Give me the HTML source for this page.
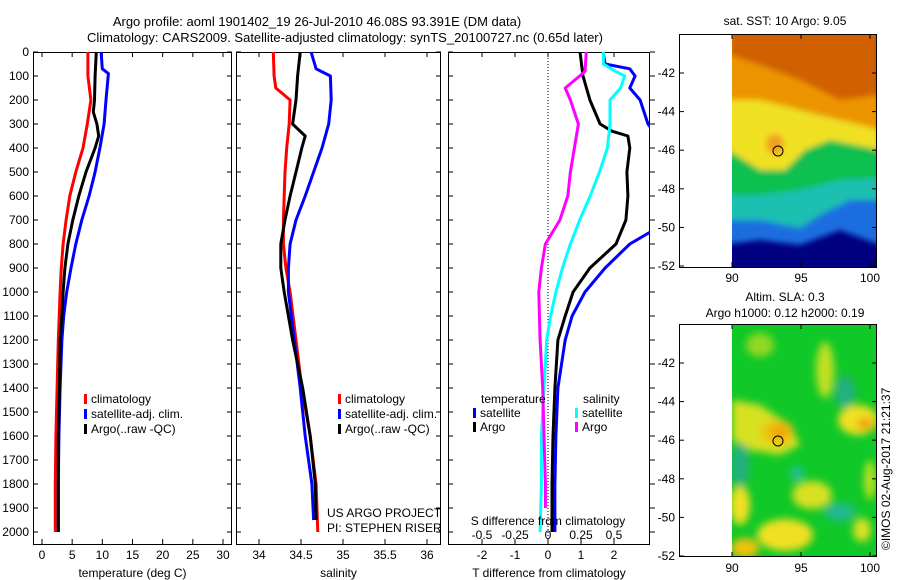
<!DOCTYPE html>
<html><head><meta charset="utf-8"><style>
body{margin:0;background:#fff;}
svg{display:block;font-family:"Liberation Sans",sans-serif;font-size:12px;}
</style></head><body>
<svg id="c" width="900" height="580" xmlns="http://www.w3.org/2000/svg">
<defs>
<filter id="bl" x="-20%" y="-20%" width="140%" height="140%"><feGaussianBlur stdDeviation="4"/></filter>
<filter id="bl2" x="-20%" y="-20%" width="140%" height="140%"><feGaussianBlur stdDeviation="3"/></filter>
<clipPath id="cp3"><rect x="448" y="52" width="202" height="492"/></clipPath>
<clipPath id="cm1"><rect x="732" y="34" width="145" height="233"/></clipPath>
<clipPath id="cm2"><rect x="732" y="324" width="145" height="233"/></clipPath>
</defs>
<text x="317" y="26" text-anchor="middle" font-size="13">Argo profile: aoml 1901402_19 26-Jul-2010 46.08S 93.391E (DM data)</text>
<text x="345" y="42" text-anchor="middle" font-size="13">Climatology: CARS2009. Satellite-adjusted climatology: synTS_20100727.nc (0.65d later)</text>

<g>
<text x="785" y="25" text-anchor="middle">sat. SST: 10 Argo: 9.05</text>
<g clip-path="url(#cm1)">
<rect x="732" y="34" width="145" height="233" fill="#000080"/>
<g filter="url(#bl2)">
<path d="M720,210 L760,215 L800,225 L830,210 L850,195 L880,190 L880,245 L840,230 L800,245 L760,240 L720,245Z" fill="#1a6ee0"/>
<path d="M720,185 L760,190 L800,185 L840,175 L880,170 L880,200 L850,200 L820,215 L800,228 L760,220 L720,220Z" fill="#1fbfb0"/>
<path d="M720,140 L760,165 L780,165 L800,150 L820,135 L880,145 L880,178 L840,180 L800,190 L760,195 L720,195Z" fill="#10c050"/>
<path d="M720,90 L760,95 L800,110 L840,120 L880,125 L880,150 L830,140 L805,150 L785,170 L760,170 L720,145Z" fill="#f0e020"/>
<path d="M720,25 L880,25 L880,130 L840,120 L800,110 L760,100 L720,100Z" fill="#ec9400"/>
<path d="M730,25 L880,25 L880,95 L840,100 L800,80 L760,65 L730,55Z" fill="#d06000"/>
<ellipse cx="775" cy="144" rx="9" ry="10" fill="#f0a020"/>
</g>
</g>
<rect x="679.5" y="34.5" width="197" height="233" fill="none" stroke="#000"/>
<circle cx="778" cy="151" r="5" fill="none" stroke="#000"/>
</g>

<g>
<text x="785" y="301" text-anchor="middle">Altim. SLA: 0.3</text>
<text x="785" y="317" text-anchor="middle">Argo h1000: 0.12 h2000: 0.19</text>
<g clip-path="url(#cm2)">
<rect x="732" y="324" width="145" height="233" fill="#10c828"/>
<g filter="url(#bl)">
<path d="M732,400 L760,405 L790,425 L800,445 L780,455 L750,450 L732,440Z" fill="#d8e020"/>
<ellipse cx="778" cy="432" rx="16" ry="12" fill="#f0c010"/>
<ellipse cx="780" cy="432" rx="8" ry="6" fill="#f0a010"/>
<ellipse cx="858" cy="420" rx="20" ry="15" fill="#f0e020"/>
<ellipse cx="865" cy="424" rx="8" ry="6" fill="#f0a010"/>
<ellipse cx="825" cy="370" rx="9" ry="28" fill="#c0e020"/>
<ellipse cx="760" cy="345" rx="14" ry="12" fill="#90d820"/>
<ellipse cx="740" cy="505" rx="10" ry="20" fill="#f0e020"/>
<ellipse cx="812" cy="495" rx="20" ry="14" fill="#d8e020"/>
<ellipse cx="785" cy="535" rx="28" ry="16" fill="#f0e020"/>
<ellipse cx="745" cy="548" rx="14" ry="10" fill="#f0c010"/>
<ellipse cx="840" cy="512" rx="16" ry="9" fill="#20b890"/>
<ellipse cx="797" cy="474" rx="6" ry="8" fill="#20c0a0"/>
<ellipse cx="845" cy="392" rx="10" ry="16" fill="#20b080"/>
<ellipse cx="740" cy="465" rx="9" ry="22" fill="#20b080"/>
<ellipse cx="862" cy="530" rx="9" ry="12" fill="#d8e020"/>
<ellipse cx="870" cy="480" rx="6" ry="20" fill="#b8e020"/>
</g>
</g>
<rect x="679.5" y="324.5" width="197" height="232" fill="none" stroke="#000"/>
<circle cx="778" cy="441" r="5" fill="none" stroke="#000"/>
</g>
<text transform="translate(890,550) rotate(-90)" font-size="12">©IMOS 02-Aug-2017 21:21:37</text>
<g id="dyn"></g>
</svg>
<script>
// ---- data ----
const tempClimDepth = [0,100,200,300,400,500,600,700,800,900,1000,1200,1400,1600,1800,2000];
const tempClim = [7.6,7.6,8.1,7.5,6.8,5.6,4.6,4.0,3.5,3.2,3.0,2.7,2.5,2.3,2.2,2.2];
const tempArgoDepth = [0,100,200,250,300,350,400,500,600,700,800,900,1000,1100,1200,1400,1600,1800,2000];
const tempArgo = [9.0,8.8,8.7,8.5,9.1,9.4,8.8,7.3,6.1,5.1,4.3,3.8,3.5,3.3,3.0,2.9,2.7,2.7,2.7];
const tempSatDepth = [0,70,90,200,300,400,500,600,700,800,900,1000,1100,1200,1400,1600,1800,2000];
const tempSat = [9.8,10.0,11.0,10.6,10.3,9.6,8.8,7.8,6.6,5.6,4.8,4.1,3.6,3.3,3.0,2.8,2.7,2.7];
const salClimDepth = [0,100,150,200,300,400,500,600,700,800,900,1000,1200,1400,1600,1800,2000];
const salClim = [34.17,34.18,34.20,34.37,34.36,34.33,34.31,34.30,34.29,34.29,34.32,34.37,34.44,34.51,34.61,34.68,34.70];
const salArgoDepth = [0,100,200,300,350,400,500,600,700,800,900,1000,1200,1400,1600,1800,1950];
const salArgo = [34.49,34.46,34.44,34.40,34.55,34.51,34.44,34.37,34.31,34.26,34.26,34.30,34.40,34.52,34.61,34.67,34.68];
const salSatDepth = [0,70,100,200,300,400,500,600,700,800,900,1000,1200,1400,1600,1800,1950];
const salSat = [34.62,34.68,34.85,34.86,34.83,34.75,34.65,34.55,34.44,34.37,34.35,34.35,34.42,34.49,34.55,34.63,34.65];
const dTArgoDepth = [0,100,200,300,330,350,400,500,600,700,800,900,1000,1100,1200,1400,1600,1800,2000];
const dTArgo = [0.97,1.06,1.27,1.58,1.94,2.42,2.48,2.39,2.42,2.36,2.06,1.27,0.76,0.52,0.30,0.21,0.15,0.12,0.12];
const dTSatDepth = [0,50,70,100,150,200,300,350,700,750,800,900,1000,1100,1200,1400,1600,1800,2000];
const dTSat = [1.67,1.73,2.48,2.64,2.48,2.79,3.03,3.3,3.5,3.1,2.48,1.73,1.12,0.73,0.52,0.30,0.24,0.21,0.21];
const dSSatDepth = [0,50,80,100,150,200,300,400,500,600,700,800,900,1000,1100,1200,1400,1600,1800,2000];
const dSSat = [0.42,0.42,0.51,0.58,0.55,0.47,0.47,0.45,0.39,0.32,0.24,0.17,0.11,0.06,0.02,-0.01,-0.03,-0.05,-0.05,-0.06];
const dSArgoDepth = [0,80,100,150,200,300,400,500,600,700,800,900,1000,1200,1400,1600,1800,1900];
const dSArgo = [0.29,0.28,0.24,0.13,0.17,0.23,0.20,0.17,0.15,0.09,-0.02,-0.05,-0.07,-0.06,-0.04,-0.03,-0.02,-0.02];
const tempTicks = [0,5,10,15,20,25,30];
const salTicks = [34,34.5,35,35.5,36];
const dTTicks = [-2,-1,0,1,2];
const dSTicks = [-0.5,-0.25,0,0.25,0.5];
const latTicks = [-42,-44,-46,-48,-50,-52];
const lonTicks = [90,95,100];

// ---- helpers ----
const NS='http://www.w3.org/2000/svg';
const g=document.getElementById('dyn');
function mk(tag,attrs,parent){const e=document.createElementNS(NS,tag);for(const k in attrs)e.setAttribute(k,attrs[k]);(parent||g).appendChild(e);return e;}
const yTop=52, yBot=544;
const yD = d => yTop + d*0.24;
function scaleX(d0,d1,p0,p1){return v=>p0+(v-d0)*(p1-p0)/(d1-d0);}

const panels=[
 {name:'temperature-panel',x0:33,x1:232,sx:scaleX(0,30,42,223),ticks:tempTicks,lab:'temperature (deg C)',ylab:true},
 {name:'salinity-panel',x0:236,x1:441,sx:scaleX(34,36,259,427),ticks:salTicks,lab:'salinity',ylab:false},
 {name:'difference-panel',x0:448,x1:650,sx:scaleX(-2,2,482,614),ticks:dTTicks,lab:'T difference from climatology',ylab:false}
];
const sS=scaleX(-0.5,0.5,482,614);

panels.forEach((p,i)=>{
  const pg=mk('g',{});
  
  
  const r=mk('rect',{x:p.x0+0.5,y:yTop+0.5,width:p.x1-p.x0-1,height:yBot-yTop,fill:'none',stroke:'#000'},pg);
  
  
  for(let d=0;d<=2000;d+=100){
    const y=yD(d);
    if(i<2){ mk('line',{x1:p.x0,x2:p.x0+5,y1:y,y2:y,stroke:'#000'},pg); mk('line',{x1:p.x1-5,x2:p.x1,y1:y,y2:y,stroke:'#000'},pg);}
    else { mk('line',{x1:p.x1,x2:p.x1+5,y1:y,y2:y,stroke:'#000'},pg); mk('line',{x1:p.x0,x2:p.x0+5,y1:y,y2:y,stroke:'#000'},pg);}
    if(p.ylab){const t=mk('text',{x:p.x0-4,y:y+4,'text-anchor':'end'},pg);t.textContent=d;
      
      }
  }
  p.ticks.forEach(v=>{
    const x=p.sx(v);
    mk('line',{x1:x,x2:x,y1:yBot,y2:yBot-5,stroke:'#000'},pg);
    mk('line',{x1:x,x2:x,y1:yTop,y2:yTop+5,stroke:'#000'},pg);
    const t=mk('text',{x:x,y:559,'text-anchor':'middle'},pg);t.textContent=v;
    
    
  });
  const t=mk('text',{x:(p.x0+p.x1)/2,y:577,'text-anchor':'middle'},pg);t.textContent=p.lab;
  
  
});

function line(depths,vals,sx,color,name,clip){
  const pts=depths.map((d,k)=>sx(vals[k]).toFixed(1)+','+yD(d).toFixed(1)).join(' ');
  const a={points:pts,fill:'none',stroke:color,'stroke-width':3,'stroke-linejoin':'round'};
  if(clip)a['clip-path']=clip;
  const e=mk('polyline',a);
  
  
}
const sT=panels[0].sx, sSal=panels[1].sx, sdT=panels[2].sx;
line(tempClimDepth,tempClim,sT,'#ff0000','temp-climatology-line');
line(tempSatDepth,tempSat,sT,'#0000ff','temp-satellite-line');
line(tempArgoDepth,tempArgo,sT,'#000','temp-argo-line');
line(salClimDepth,salClim,sSal,'#ff0000','sal-climatology-line');
line(salSatDepth,salSat,sSal,'#0000ff','sal-satellite-line');
line(salArgoDepth,salArgo,sSal,'#000','sal-argo-line');
const z=mk('line',{x1:sdT(0),x2:sdT(0),y1:yTop,y2:yBot,stroke:'#000','stroke-dasharray':'1,2'});


line(dTSatDepth,dTSat,sdT,'#0000ff','dT-satellite-line','url(#cp3)');
line(dTArgoDepth,dTArgo,sdT,'#000','dT-argo-line','url(#cp3)');
line(dSSatDepth,dSSat,sS,'#00ffff','dS-satellite-line','url(#cp3)');
line(dSArgoDepth,dSArgo,sS,'#ff00ff','dS-argo-line','url(#cp3)');
dSTicks.forEach(v=>{const t=mk('text',{x:sS(v),y:539,'text-anchor':'middle'});t.textContent=v;
  
  });
function txt(x,y,s,name,anchor){const t=mk('text',{x:x,y:y,'text-anchor':anchor||'start'});t.textContent=s;
  
  return t;}
txt(548,525,'S difference from climatology','s-diff-axis-title','middle');
txt(327,517,'US ARGO PROJECT','project-label');
txt(327,532,'PI: STEPHEN RISER','pi-label');
function leg(x,y,color,s,name){
  const r=mk('rect',{x:x,y:y-9,width:3,height:10,fill:color});
  
  
  txt(x+7,y,s,name);
}
leg(84,403,'#ff0000','climatology','legend-climatology');
leg(84,418,'#0000ff','satellite-adj. clim.','legend-satellite');
leg(84,433,'#000','Argo(..raw -QC)','legend-argo');
leg(338,403,'#ff0000','climatology','legend2-climatology');
leg(338,418,'#0000ff','satellite-adj. clim.','legend2-satellite');
leg(338,433,'#000','Argo(..raw -QC)','legend2-argo');
txt(481,403,'temperature','legend-temperature-heading');
leg(473,417,'#0000ff','satellite','legend-t-satellite');
leg(473,431,'#000','Argo','legend-t-argo');
txt(583,403,'salinity','legend-salinity-heading');
leg(575,417,'#00ffff','satellite','legend-s-satellite');
leg(575,431,'#ff00ff','Argo','legend-s-argo');
const lonX=scaleX(90,100,732,870);
[[34,267,73,266],[324,557,363,556]].forEach((m,mi)=>{
  const ly=scaleX(-42,-52,m[2],m[3]);
  latTicks.forEach(v=>{const y=ly(v);
    mk('line',{x1:679,x2:684,y1:y,y2:y,stroke:'#000'});mk('line',{x1:872,x2:877,y1:y,y2:y,stroke:'#000'});
    txt(675,y+4,v,'lat-tick-label','end');});
  lonTicks.forEach(v=>{const x=lonX(v);
    mk('line',{x1:x,x2:x,y1:m[1],y2:m[1]-5,stroke:'#000'});mk('line',{x1:x,x2:x,y1:m[0],y2:m[0]+5,stroke:'#000'});
    txt(x,m[1]+15,v,'lon-tick-label','middle');});
});
</script>
</body></html>
